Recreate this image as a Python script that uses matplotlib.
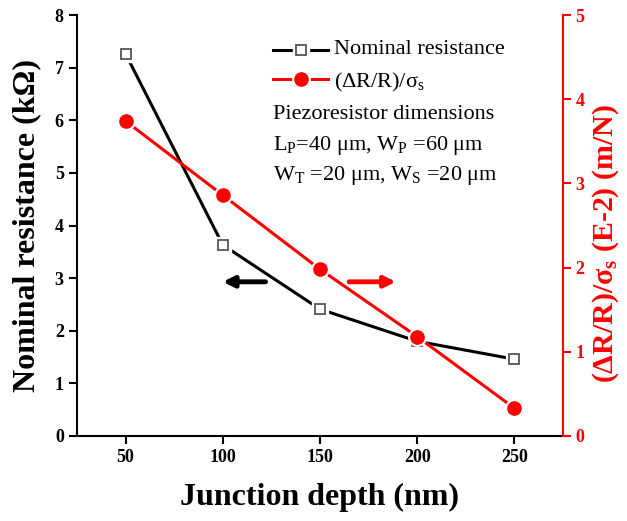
import matplotlib
matplotlib.use("Agg")
import matplotlib.pyplot as plt

plt.rcParams['font.family'] = ['Liberation Serif', 'DejaVu Serif']
plt.rcParams['mathtext.fontset'] = 'custom'
plt.rcParams['mathtext.rm'] = 'Liberation Serif'
plt.rcParams['mathtext.it'] = 'Liberation Serif:italic'
plt.rcParams['mathtext.bf'] = 'Liberation Serif:bold'

depth = [50, 100, 150, 200, 250]
resistance = [7.26, 3.63, 2.41, 1.80, 1.46]
sensitivity = [3.74, 2.86, 1.98, 1.18, 0.33]
xticks = [50, 100, 150, 200, 250]

W, H = 627, 521
fig = plt.figure(figsize=(W / 100, H / 100), dpi=100)
L, R, T, B = 77, 563, 15, 436
ax = fig.add_axes([L / W, 1 - B / H, (R - L) / W, (B - T) / H])
ax2 = ax.twinx()

# black series: line, white halo, open square
ax.plot(depth, resistance, '-', color='black', lw=2.2, zorder=2)
ax.plot(depth, resistance, 's', ls='none', ms=11, mfc='white', mec='white', zorder=3)
ax.plot(depth, resistance, 's', ls='none', ms=7.5, mfc='white', mec='#555555',
        mew=1.3, zorder=4)
# red series
ax2.plot(depth, sensitivity, '-', color='red', lw=2.2, zorder=2)
ax2.plot(depth, sensitivity, 'o', ls='none', ms=12.5, mfc='white', mec='white', zorder=3)
ax2.plot(depth, sensitivity, 'o', ls='none', ms=9.5, mfc='red', mec='red', zorder=4)

ax.set_xlim(25, 275)
ax.set_ylim(0, 8)
ax2.set_ylim(0, 5)
ax.set_xticks(xticks)
ax.set_yticks(range(0, 9))
ax2.set_yticks(range(0, 6))

for a in (ax, ax2):
    a.spines['top'].set_visible(False)
ax.spines['right'].set_visible(False)
ax2.spines['left'].set_visible(False)
ax2.spines['bottom'].set_visible(False)
ax2.spines['right'].set_color('red')
ax2.spines['right'].set_linewidth(1.5)
ax.spines['left'].set_linewidth(1.5)
ax.spines['bottom'].set_linewidth(1.5)

ax.tick_params(axis='both', direction='out', width=1.5, length=6, labelsize=13)
ax2.tick_params(axis='y', direction='out', width=1.5, length=6, labelsize=13,
                colors='red', pad=3)
for lab in ax.get_xticklabels() + ax.get_yticklabels() + ax2.get_yticklabels():
    lab.set_fontweight('bold')

ax.set_xlabel('Junction depth (nm)', fontsize=23, fontweight='bold', labelpad=12)
ax.set_ylabel('Nominal resistance (k\u03a9)', fontsize=23, fontweight='bold', labelpad=10)
ax2.set_ylabel('(\u0394R/R)/\u03c3$_\\mathbf{s}$ (E-2) (m/N)',
               fontsize=21.5, fontweight='bold', color='red')
ax2.yaxis.set_label_coords(1.057, 0.458)

# legend drawn as in the reference
fs = 16
hx0, hx1 = (273 - L) / (R - L), (328 - L) / (R - L)
tx = (334 - L) / (R - L)
ry = [(B - 50) / (B - T), (B - 79) / (B - T)]
hxm = (hx0 + hx1) / 2
ax.plot([hx0, hx1], [ry[0], ry[0]], '-', color='black', lw=2.2, transform=ax.transAxes,
        clip_on=False)
ax.plot([hxm], [ry[0]], 's', ms=11, mfc='white', mec='white', transform=ax.transAxes,
        clip_on=False)
ax.plot([hxm], [ry[0]], 's', ms=7.5, mfc='white', mec='#555555', mew=1.3,
        transform=ax.transAxes, clip_on=False)
ax.plot([hx0, hx1], [ry[1], ry[1]], '-', color='red', lw=2.2, transform=ax.transAxes,
        clip_on=False)
ax.plot([hxm], [ry[1]], 'o', ms=12.5, mfc='white', mec='white', transform=ax.transAxes,
        clip_on=False)
ax.plot([hxm], [ry[1]], 'o', ms=9.5, mfc='red', mec='red', transform=ax.transAxes,
        clip_on=False)
ax.text(tx, ry[0], 'Nominal resistance', transform=ax.transAxes, fontsize=fs,
        va='center', ha='left')
ax.text(tx, ry[1], '(\u0394R/R)/\u03c3$_\\mathrm{s}$', transform=ax.transAxes, fontsize=fs,
        va='center_baseline', ha='left')

lx = (273 - L) / (R - L)
lines = ['Piezoresistor dimensions',
         'L$_\\mathrm{P}$=40 \u03bcm, W$_\\mathrm{P}$ =60 \u03bcm',
         'W$_\\mathrm{T}$ =20 \u03bcm, W$_\\mathrm{S}$ =20 \u03bcm']
for i, s in enumerate(lines):
    y = (B - (112 + 30 * i)) / (B - T)
    ax.text(lx, y, s, transform=ax.transAxes, fontsize=fs, va='center_baseline', ha='left')

ax.annotate('', xy=(100, 2.93), xytext=(122, 2.93),
            arrowprops=dict(arrowstyle='-|>', color='black', lw=3.5, mutation_scale=16,
                            shrinkA=0, shrinkB=0))
ax.annotate('', xy=(189, 2.93), xytext=(165, 2.93),
            arrowprops=dict(arrowstyle='-|>', color='red', lw=3.5, mutation_scale=16,
                            shrinkA=0, shrinkB=0))

fig.savefig('out.png', dpi=100)
